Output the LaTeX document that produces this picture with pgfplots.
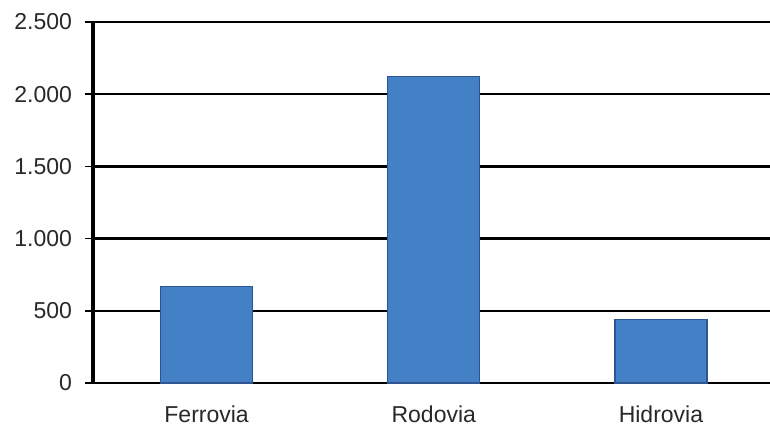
\documentclass[border=0pt]{standalone}
\usepackage{pgfplots}
\pgfplotsset{compat=1.18}
\usepackage{fontspec}
\setmainfont{Liberation Sans}
\definecolor{barfill}{RGB}{68,128,198}
\definecolor{barline}{RGB}{45,85,145}
\definecolor{txt}{RGB}{40,40,40}
\begin{document}
\begin{tikzpicture}
\begin{axis}[
  name=ax,
  scale only axis,
  width=338.5pt, height=180.5pt,
  xmin=-0.5, xmax=2.48,
  ymin=0, ymax=2500,
  axis lines=left,
  axis line style={-},
  x axis line style={line width=0.8pt},
  y axis line style={line width=1.6pt},
  xtick={0,1,2},
  xticklabels={Ferrovia,Rodovia,Hidrovia},
  major x tick style={draw=none},
  extra x ticks={0.5,1.5},
  extra x tick labels={},
  extra x tick style={major tick length=6pt, tick style={line width=0.8pt, black}, grid=none},
  ytick={0,500,1000,1500,2000,2500},
  extra y ticks={1000,1500,2500},
  extra y tick labels={},
  extra y tick style={grid=major, major grid style={line width=1.3pt, black}},
  tick align=outside,
  major tick length=4pt,
  ytick style={line width=0.8pt, black},
  ymajorgrids,
  major grid style={line width=0.9pt, black},
  /pgf/number format/assume math mode=true,
  /pgf/number format/1000 sep={.},
  scaled y ticks=false,
  tick label style={font=\fontsize{11.5}{13}\selectfont, text=txt},
  xticklabel style={yshift=-4pt},
  yticklabel style={xshift=-3pt},
  clip=false,
]
\addplot[ybar, bar width=46pt, fill=barfill, draw=barline, line width=0.6pt]
  coordinates {(0,670) (1,2120) (2,440)};
\end{axis}
\pgfresetboundingbox
\path (ax.south west) ++(-46.5pt,-21pt) rectangle ++(385pt,212.5pt);
\end{tikzpicture}
\end{document}
